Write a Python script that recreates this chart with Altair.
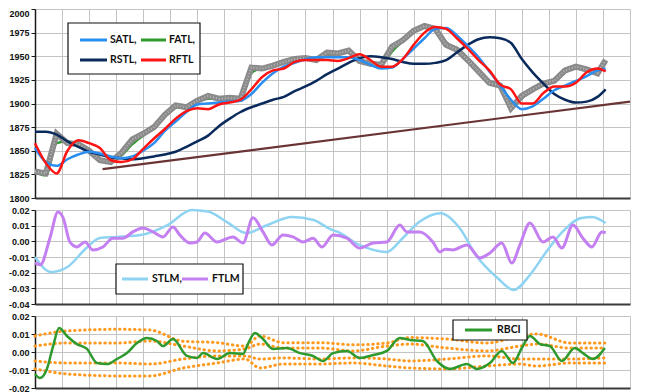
import altair as alt
import pandas as pd

# ---------------- data (x in bar units, 10 bars per grid cell) ----------------
bars = list(range(0, 209, 4)) + [211]
price = [1828, 1826, 1868, 1858, 1857, 1850, 1840, 1838, 1848, 1862, 1868, 1875, 1888, 1898,
         1896, 1903, 1908, 1905, 1906, 1905, 1938, 1937, 1940, 1944, 1947, 1948, 1946, 1954,
         1953, 1956, 1945, 1942, 1941, 1960, 1967, 1977, 1982, 1979, 1962, 1957, 1946, 1934,
         1922, 1919, 1895, 1908, 1915, 1921, 1924, 1935, 1939, 1936, 1932, 1946]
satl = [1853, 1838, 1834, 1841, 1846, 1849, 1847, 1844, 1842, 1844, 1850, 1858, 1871, 1881,
        1891, 1899, 1900, 1901, 1902, 1903, 1910, 1922, 1932, 1939, 1943, 1947, 1949, 1949,
        1949, 1949, 1946, 1941, 1937, 1938, 1947, 1958, 1969, 1979, 1980, 1972, 1961, 1949,
        1934, 1919, 1904, 1894, 1897, 1905, 1914, 1919, 1924, 1929, 1935, 1937]
fatl = [1828, 1824, 1858, 1860, 1855, 1850, 1841, 1838, 1845, 1857, 1866, 1874, 1886, 1896,
        1896, 1902, 1905, 1905, 1905, 1906, 1932, 1938, 1940, 1943, 1946, 1947, 1947, 1951,
        1953, 1954, 1947, 1942, 1942, 1955, 1966, 1976, 1981, 1979, 1965, 1957, 1947, 1935,
        1924, 1917, 1900, 1906, 1914, 1920, 1924, 1933, 1938, 1937, 1935, 1944]
rstl = [1870, 1870, 1867, 1860, 1854, 1849, 1846, 1843, 1842, 1841, 1842, 1844, 1846, 1849,
        1854, 1860, 1866, 1876, 1884, 1891, 1896, 1900, 1904, 1907, 1913, 1918, 1924, 1931,
        1937, 1943, 1948, 1950, 1949, 1947, 1944, 1942, 1942, 1943, 1946, 1954, 1962, 1968,
        1970, 1969, 1964, 1947, 1933, 1921, 1910, 1904, 1901, 1902, 1907, 1915]
rftl = [1858, 1837, 1826, 1850, 1861, 1858, 1853, 1840, 1838, 1841, 1852, 1863, 1873, 1884,
        1892, 1895, 1894, 1899, 1901, 1904, 1915, 1928, 1935, 1937, 1944, 1946, 1946, 1946,
        1945, 1948, 1952, 1946, 1939, 1939, 1947, 1962, 1975, 1981, 1979, 1969, 1958, 1946,
        1935, 1920, 1915, 1900, 1900, 1911, 1918, 1918, 1922, 1933, 1937, 1934]
trend_x = [25, 220]
trend_y = [1830.5, 1902]

stlm_x = [0, 6, 12, 19, 24, 30, 39, 49, 58, 64, 71, 78, 86, 95, 103, 109, 112, 120, 130, 136,
          142, 150, 157, 163, 171, 177, 183, 189, 195, 202, 206, 211]
stlm = [-0.010, -0.0196, -0.0164, -0.0043, 0.0021, 0.0028, 0.0040, 0.0104, 0.0200, 0.0190,
        0.0123, 0.0053, 0.0104, 0.0155, 0.0136, 0.0080, 0.0060, -0.0023, -0.0068, 0.0021,
        0.0123, 0.0180, 0.0085, -0.0087, -0.0234, -0.0310, -0.0215, -0.0068, 0.0060, 0.0149,
        0.0155, 0.0117]
ftlm_x = [0, 2, 5.5, 8.5, 10.4, 12.9, 15.5, 18.5, 21.4, 25.1, 28.8, 32.5, 36.2, 39.9, 43.6,
          47.3, 51, 53.6, 57.3, 59.9, 62.8, 67.3, 73.2, 76.9, 80.6, 84.3, 87.6, 91.7, 95.4,
          99.1, 102.8, 106.1, 110.2, 115.3, 120.1, 125, 130.1, 134.9, 137.5, 142.3, 147.1,
          149.7, 151.6, 154.5, 159.7, 164.5, 168.2, 172.6, 176.3, 179.3, 183, 187.8, 191.5,
          194.8, 198.9, 202.6, 205.9, 209.6, 211]
ftlm = [-0.0138, -0.015, 0.002, 0.0187, 0.015, -0.0004, -0.0036, -0.0004, -0.0055, -0.0036,
        0.002, 0.002, 0.006, 0.0085, 0.006, 0.0028, 0.0091, 0.004, -0.0011, -0.0004, 0.0053,
        -0.0004, 0.0028, -0.0011, 0.015, 0.006, -0.0023, 0.004, 0.0028, -0.0004, 0.002,
        -0.0036, 0.004, 0.002, -0.0043, -0.0011, -0.0004, 0.0104, 0.006, 0.006, -0.0004,
        -0.0068, -0.005, -0.0055, -0.0023, -0.0106, -0.0074, -0.0011, -0.0138, -0.0023,
        0.0117, -0.0004, 0.0028, -0.0043, 0.0104, 0.002, -0.0036, 0.006, 0.0055]
rbci_x = [0, 1.8, 4.4, 6.7, 8.9, 11.8, 15.5, 19.2, 22.9, 26.6, 30.3, 34, 37.7, 41.4, 45.1,
          47.3, 51, 56.2, 59.9, 62.1, 67.3, 72.1, 76.9, 78.7, 81.3, 84.3, 88, 93.2, 98, 102.8,
          106.5, 110.2, 115.3, 120.1, 125, 130.1, 134.9, 138.6, 143.4, 148.6, 153.4, 159.7,
          163.4, 168.2, 172.6, 176.7, 180, 183, 186.7, 190.4, 194.8, 199.6, 202.6, 206.3, 210.7]
rbci = [-0.0122, -0.0144, -0.0094, 0.0033, 0.0133, 0.0089, 0.0044, 0.0017, -0.0061, -0.0067,
        -0.0039, -0.0006, 0.005, 0.0078, 0.0061, 0.0033, 0.0072, -0.0022, -0.0033, -0.0006,
        -0.0039, -0.0006, -0.0011, 0.0044, 0.0106, 0.0072, 0.0017, 0.0022, -0.0006, -0.0022,
        -0.005, -0.0006, 0.0006, -0.0033, -0.0017, 0.0006, 0.0078, 0.0067, 0.0061, -0.005,
        -0.0094, -0.0067, -0.0094, -0.0061, 0.0006, -0.0061, 0.0022, 0.0089, 0.0044, 0.0033,
        -0.005, 0.0022, -0.0006, -0.0039, 0.0022]
band_x = [0, 11.8, 30.3, 42.5, 54.7, 67.3, 77.6, 83.2, 91.7, 105.4, 117.6, 130.1, 138.6,
          152.3, 167.1, 179.3, 185.6, 197.8, 210.7]
band_up2 = [0.0089, 0.0117, 0.0126, 0.0122, 0.006, 0.0052, 0.0033, 0.0089, 0.0052, 0.0052,
            0.004, 0.005, 0.008, 0.0072, 0.005, 0.0089, 0.01, 0.005, 0.005]
band_up1 = [0.0033, 0.005, 0.005, 0.0061, 0.0033, 0.0006, 0.0017, 0.0044, 0.0022, 0.0022,
            0.0006, 0.0033, 0.0044, 0.0022, 0.0006, 0.0033, 0.0044, 0.0022, 0.0022]
band_dn1 = [-0.005, -0.0061, -0.0061, -0.0067, -0.0039, -0.0022, -0.0022, -0.0039, -0.0033,
            -0.0039, -0.0033, -0.0039, -0.005, -0.0039, -0.0022, -0.0039, -0.0039, -0.0039,
            -0.0033]
band_dn2 = [-0.0094, -0.0122, -0.0133, -0.0133, -0.0089, -0.0061, -0.0039, -0.0089, -0.0067,
            -0.0067, -0.0061, -0.0078, -0.0089, -0.0094, -0.0078, -0.0067, -0.0078, -0.0061,
            -0.0061]

grid_bars = list(range(0, 221, 10))
top_ticks = list(range(1800, 2001, 25))
mid_ticks = [-0.04, -0.03, -0.02, -0.01, 0.0, 0.01, 0.02]
bot_ticks = [-0.02, -0.01, 0.0, 0.01, 0.02]

# ---------------- style ----------------
AXFONT = "Liberation Sans"
LGFONT = "Lato"
GRID = "#c4c4c4"
W = 595

xs = alt.Scale(domain=[0, 220], nice=False, zero=False)
yfmt = "replace(datum.label, '\u2212', '-')"


def xaxis():
    return alt.Axis(labels=False, ticks=False, title=None, grid=True, values=grid_bars,
                    gridColor=GRID, gridWidth=1, gridOpacity=1,
                    domainColor="#3a3a3a", domainWidth=2)


def yaxis(vals, fmt, top_flush=False):
    kw = dict(values=vals, title=None, format=fmt, grid=True, gridColor=GRID,
              gridWidth=1, gridOpacity=1,
              domainColor="#1a1a1a", domainWidth=1.5, tickColor="#1a1a1a",
              tickSize=4, labelFont=AXFONT, labelFontSize=9, labelFontWeight="bold",
              labelColor="#111111", labelPadding=2, labelExpr=yfmt)
    if top_flush:
        kw["labelBaseline"] = {"condition": {"test": "datum.value >= 2000", "value": "top"},
                               "value": "middle"}
    return alt.Axis(**kw)


def line_layer(xv, yv, yscale, yax, color, width, interp="monotone", dash=None, cap="butt"):
    df = pd.DataFrame({"bar": xv, "value": yv})
    mk = dict(color=color, strokeWidth=width, interpolate=interp, strokeCap=cap)
    if dash:
        mk["strokeDash"] = dash
    return alt.Chart(df).mark_line(**mk).encode(
        x=alt.X("bar:Q", scale=xs, axis=xaxis()),
        y=alt.Y("value:Q", scale=yscale, axis=yax),
    )


one = pd.DataFrame({"k": [0]})


def box(x1, x2, y1, y2):
    return alt.Chart(one).mark_rect(fill="white", stroke="#111111", strokeWidth=1.2).encode(
        x=alt.value(x1), x2=alt.value(x2), y=alt.value(y1), y2=alt.value(y2))


def swatch(x1, x2, y, color, width=3):
    return alt.Chart(one).mark_rule(color=color, strokeWidth=width).encode(
        x=alt.value(x1), x2=alt.value(x2), y=alt.value(y))


def label(x, y, txt):
    return alt.Chart(one).mark_text(align="left", baseline="middle", font=LGFONT, fontSize=10.5,
                                    fontWeight="bold", color="#111111").encode(
        x=alt.value(x), y=alt.value(y), text=alt.value(txt))


# ---------------- top panel ----------------
ys_top = alt.Scale(domain=[1800, 2000], nice=False, zero=False)
ya_top = yaxis(top_ticks, "d", top_flush=True)
top = alt.layer(
    line_layer(trend_x, trend_y, ys_top, ya_top, "#6a3434", 2.2, interp="linear"),
    line_layer(bars, fatl, ys_top, ya_top, "#2e9a2e", 2.5),
    line_layer(bars, price, ys_top, ya_top, "#8a8a8a", 6, interp="linear"),
    line_layer(bars, price, ys_top, ya_top, "#b8b8b8", 2, interp="linear", dash=[1, 2]),
    line_layer(bars, rstl, ys_top, ya_top, "#0b2a5c", 2.5),
    line_layer(bars, satl, ys_top, ya_top, "#2a8ef0", 2.5),
    line_layer(bars, rftl, ys_top, ya_top, "#ff1414", 2.5),
    box(33, 165, 14, 65),
    swatch(45, 72, 31, "#2a8ef0"), label(75, 31, "SATL,"),
    swatch(106, 131, 31, "#2e9a2e"), label(134, 31, "FATL,"),
    swatch(45, 72, 51, "#0b2a5c"), label(75, 51, "RSTL,"),
    swatch(106, 131, 51, "#ff1414"), label(134, 51, "RFTL"),
).properties(width=W, height=189)

# ---------------- middle panel ----------------
ys_mid = alt.Scale(domain=[-0.04, 0.02], nice=False, zero=False)
ya_mid = yaxis(mid_ticks, ".2f")
mid = alt.layer(
    line_layer(stlm_x, stlm, ys_mid, ya_mid, "#8ed4f2", 2.5),
    line_layer(ftlm_x, ftlm, ys_mid, ya_mid, "#c47ff0", 3),
    box(81, 208, 54, 84),
    swatch(87, 113, 69, "#8ed4f2"), label(117, 69, "STLM,"),
    swatch(147, 173, 69, "#c47ff0"), label(177, 69, "FTLM"),
).properties(width=W, height=94)

# ---------------- bottom panel ----------------
ys_bot = alt.Scale(domain=[-0.02, 0.02], nice=False, zero=False)
ya_bot = yaxis(bot_ticks, ".2f")
dots = [0.5, 4.5]
bot = alt.layer(
    line_layer(band_x, band_up2, ys_bot, ya_bot, "#ff9a1f", 3, dash=dots, cap="round"),
    line_layer(band_x, band_up1, ys_bot, ya_bot, "#ff9a1f", 3, dash=dots, cap="round"),
    line_layer(band_x, band_dn1, ys_bot, ya_bot, "#ff9a1f", 3, dash=dots, cap="round"),
    line_layer(band_x, band_dn2, ys_bot, ya_bot, "#ff9a1f", 3, dash=dots, cap="round"),
    line_layer(rbci_x, rbci, ys_bot, ya_bot, "#2e9a2e", 2.5),
    box(418, 492, 4, 24),
    swatch(430, 457, 14, "#2e9a2e"), label(462, 14, "RBCI"),
).properties(width=W, height=72)

chart = alt.VConcatChart(vconcat=[top, mid, bot], spacing=12, bounds="flush",
                         padding=0).configure_view(stroke=None)

chart.save("out.html", embed_options={"renderer": "svg", "actions": False})
